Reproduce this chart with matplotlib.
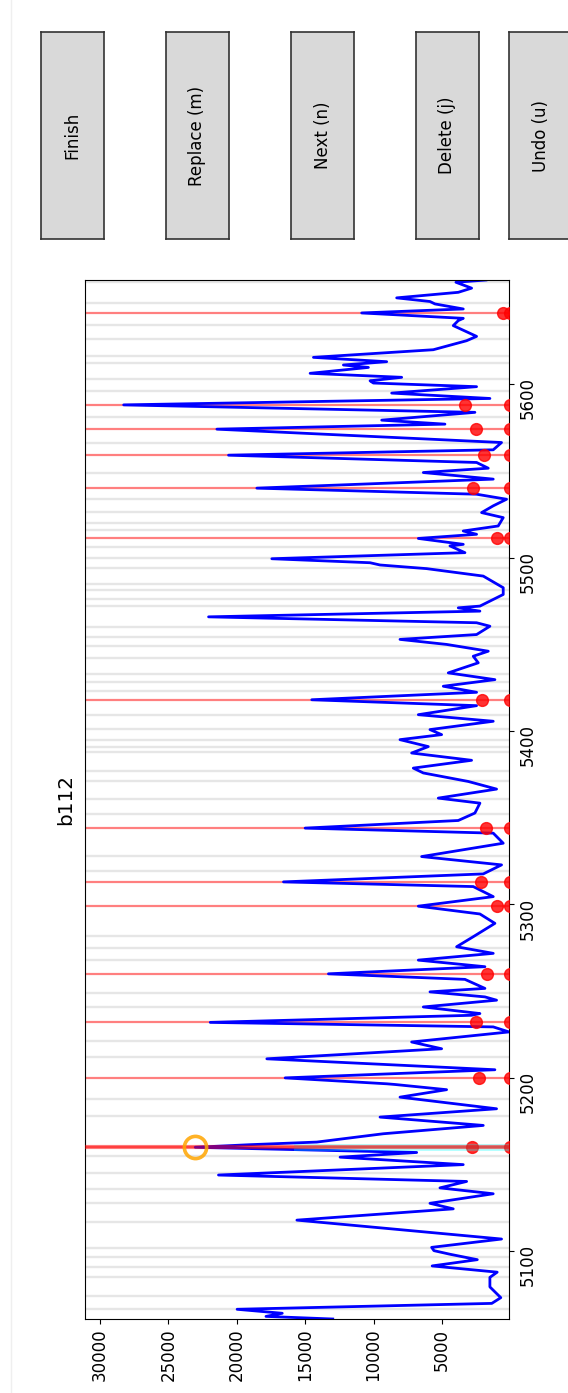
import matplotlib
matplotlib.use("Agg")
import matplotlib.pyplot as plt
from matplotlib.lines import Line2D

plt.rcParams['font.size'] = 12

# trace b112: sample index and intensity at the vertices of the curve
idx = [5061, 5062.5, 5064.3, 5066.6, 5070, 5073.3, 5079.5, 5085, 5088, 5091.6,
       5095.2, 5098.3, 5100.4, 5102.3, 5107.1, 5118, 5124.5, 5127.7, 5133.2, 5136.6,
       5140.3, 5144, 5150, 5154.3, 5157, 5160, 5161.5, 5163, 5167.8, 5172.6,
       5177.4, 5182.2, 5188.9, 5193.2, 5196.2, 5196.6, 5200, 5204.7, 5211, 5216.8,
       5220.7, 5226.5, 5229.4, 5232, 5236.1, 5237.1, 5240.9, 5244.8, 5246.7, 5249.6,
       5251.6, 5256.8, 5260, 5264.1, 5267.9, 5271.8, 5275.6, 5281.4, 5289.1, 5294.5,
       5299, 5304.5, 5310.3, 5313, 5317.6, 5322.8, 5327.6, 5335.3, 5341.1, 5344,
       5348.4, 5352.7, 5358.4, 5361.3, 5366.5, 5370.9, 5375.8, 5378.6, 5383.1, 5387.3,
       5391, 5395, 5397.9, 5400.8, 5405.6, 5409.4, 5414.6, 5418, 5422.3, 5425.8,
       5429.6, 5433.5, 5439.3, 5443.1, 5446, 5449.9, 5452.8, 5455.6, 5460.4, 5462.4,
       5465.8, 5469.1, 5471, 5472, 5478.7, 5482.6, 5489.3, 5493.6, 5495.7, 5497,
       5499.3, 5502.8, 5506.7, 5507.6, 5511, 5513.4, 5515.3, 5518.2, 5523, 5525.9,
       5529.8, 5533.6, 5536.5, 5540, 5545.2, 5549, 5551.5, 5554.8, 5559, 5562.1,
       5566.3, 5574, 5576.9, 5579.2, 5583.7, 5588, 5591.7, 5594.8, 5598.5, 5600.6,
       5601.9, 5603.9, 5606.2, 5609.6, 5611, 5612.9, 5615.4, 5619.8, 5625, 5627.5,
       5633.7, 5636.6, 5637.9, 5641, 5643.3, 5646.2, 5647.6, 5649.7, 5652.9, 5655.3,
       5658.7, 5660]
val = [12980, 17860, 16670, 19970, 1358, 700, 1496, 1496, 963, 5715,
       2416, 4394, 5584, 5754, 645, 15600, 4175, 5876, 1255, 5146,
       3197, 21330, 3445, 12445, 6847, 23030, 19014, 14145, 9284, 1982,
       9525, 1009, 8065, 4659, 8430, 9038, 16459, 1130, 17797, 5024,
       7214, 100, 1252, 21933, 2834, 2226, 6362, 1009, 1860, 5875,
       1860, 3320, 13296, 1860, 6727, 1252, 3929, 2712, 1130, 2226,
       6727, 1252, 2712, 16580, 1982, 645, 6484, 522, 1252, 14999,
       3807, 2591, 2226, 5267, 1009, 3077, 6362, 7092, 2834, 7214,
       6000, 8065, 5024, 5875, 1252, 6727, 2469, 14513, 2469, 4902,
       1130, 4537, 2347, 2712, 1617, 4659, 8065, 2469, 1495, 2469,
       22055, 2226, 3807, 2226, 522, 522, 1982, 6118, 9525, 10255,
       17432, 3320, 4415, 3442, 6727, 2469, 3442, 888, 522, 2104,
       1252, 280, 2469, 18527, 1252, 6362, 1617, 2469, 20596, 1252,
       645, 21447, 4781, 9403, 2591, 28259, 1495, 8673, 2469, 10011,
       10255, 7943, 14634, 10376, 12201, 9038, 14391, 5632, 3199, 2469,
       4172, 3807, 3442, 10863, 3442, 5510, 5875, 8308, 3807, 2834,
       3978, 1788]

# candidate maxima (grey) and accepted peaks (red) with their base levels
candidates = [5067, 5074, 5085, 5091, 5097, 5102, 5117, 5128, 5136, 5145,
              5155, 5178, 5188, 5212, 5221, 5241, 5249, 5268, 5275, 5282,
              5319, 5328, 5352, 5361, 5371, 5377, 5388, 5391, 5395, 5401,
              5409, 5423, 5428, 5433, 5442, 5449, 5454, 5460, 5472, 5476,
              5481, 5485, 5494, 5500, 5506, 5516, 5520, 5526, 5534, 5549,
              5566, 5581, 5596, 5603, 5612, 5616, 5626, 5634, 5647, 5659]
peaks = [5160, 5200, 5232, 5260, 5299, 5313, 5344, 5418, 5511, 5540,
         5559, 5574, 5588, 5641]
peak_base = [2810, 2299, 2518, 1693, 963, 2175, 1788, 2102, 963, 2759,
             1934, 2518, 3321, 525]
current = 5160
current_height = 23030

fig = plt.figure(figsize=(5.68, 13.93), dpi=100)
ax = fig.add_axes([85 / 568, 74 / 1393, 424 / 568, 1039 / 1393])

for c in candidates:
    ax.axhline(c, color='#e6e6e6', lw=1.7, zorder=0.5)
for p in peaks:
    ax.axhline(p, color='red', alpha=0.5, lw=1.6, zorder=1)

ax.plot(val, idx, color='blue', lw=2.0, zorder=2)

ax.plot(peak_base, peaks, 'o', color='red', alpha=0.8, ms=8.5, zorder=3)
ax.plot([0] * len(peaks), peaks, 'o', color='red', alpha=0.8, ms=8.5, zorder=3)

# highlight of the peak under review
ax.axhline(current, xmin=0.5, xmax=1.0, color='cyan', alpha=0.3, lw=5, zorder=4)
ax.axhline(current, color='red', alpha=0.5, lw=3, zorder=4.5)
ax.plot([current_height], [current], 'o', mfc='none', mec='orange', mew=2.6,
        ms=16, alpha=0.85, zorder=5)

lo = min(val)
hi = max(val) * 1.1
ax.set_xlim(hi, lo)
ax.set_ylim(idx[0], idx[-1])
ax.yaxis.tick_right()
ax.tick_params(axis='both', labelrotation=90, labelsize=12)

fig.text(66 / 568, 1 - 799.5 / 1393, 'b112', rotation=90, ha='center',
         va='center', fontsize=14.4)

# button strip
btn_labels = ['Finish', 'Replace (m)', 'Next (n)', 'Delete (j)', 'Undo (u)']
btn_left = [41, 166, 291, 416, 509]
for lab, x0 in zip(btn_labels, btn_left):
    bax = fig.add_axes([x0 / 568, 1 - 239 / 1393, 63 / 568, 207 / 1393])
    bax.set_facecolor('0.85')
    bax.set_xticks([])
    bax.set_yticks([])
    for s in bax.spines.values():
        s.set_color('#333333')
        s.set_linewidth(1.2)
    bax.text(0.5, 0.5, lab, rotation=90, ha='center', va='center',
             fontsize=12, transform=bax.transAxes)

fig.add_artist(Line2D([10.7 / 568, 10.7 / 568], [0, 1], color='#efefef', lw=1,
                      transform=fig.transFigure))

fig.savefig('out.png', dpi=100)
